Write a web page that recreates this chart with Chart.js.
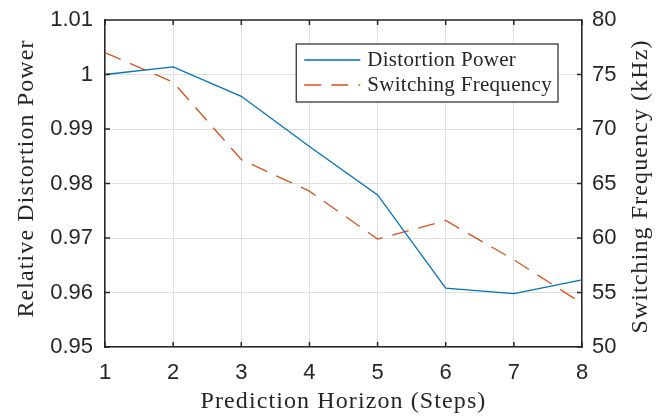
<!DOCTYPE html>
<html>
<head>
<meta charset="utf-8">
<script src="https://cdn.jsdelivr.net/npm/chart.js@4"></script>
<style>
  html, body { margin: 0; padding: 0; background: #fff; }
  #wrap { width: 665px; height: 416px; }
</style>
</head>
<body>
<div id="wrap"><canvas id="horizonChart" width="665" height="416"></canvas></div>
<script>
// Prediction horizon sweep
const horizonSteps = ['1', '2', '3', '4', '5', '6', '7', '8'];
const distortionPower = [1.0000, 1.0014, 0.9960, 0.9868, 0.9779, 0.9608, 0.9598, 0.9623];
const switchingFreqKHz = [77.0, 74.3, 67.2, 64.3, 59.9, 61.6, 58.0, 54.0];

const xTitle = 'Prediction Horizon (Steps)';
const yTitle = 'Relative Distortion Power';
const y2Title = 'Switching Frequency (kHz)';

const axisColor = '#262626';
const gridColor = '#dfdfdf';
const tickFont = { family: '"Liberation Sans", Arial, sans-serif', size: 22 };
const serifFont = '"Liberation Serif", "Times New Roman", serif';

function spacedText(ctx, text, x, y, angle) {
    ctx.save();
    ctx.translate(x, y);
    ctx.rotate(angle);
    ctx.font = '24px ' + serifFont;
    ctx.letterSpacing = '1.1px';
    ctx.fillStyle = axisColor;
    ctx.textAlign = 'center';
    ctx.textBaseline = 'middle';
    ctx.fillText(text, 0, 0);
    ctx.restore();
}

// fixed gutter around the plot box
function fixVertical(width) {
    return scale => {
        scale.width = width;
        scale.paddingTop = 0;
        scale.paddingBottom = 0;
    };
}

// Box outline, inward tick marks, axis titles and the boxed legend
const matlabFrame = {
    id: 'matlabFrame',
    afterDatasetsDraw(chart) {
        const ctx = chart.ctx;
        const area = chart.chartArea;
        const x = chart.scales.x;
        const yL = chart.scales.y;
        const yR = chart.scales.y2;
        const tick = 5;

        ctx.save();
        ctx.strokeStyle = axisColor;
        ctx.lineWidth = 1.5;
        ctx.beginPath();
        ctx.moveTo(area.left, area.top);
        ctx.lineTo(area.right, area.top);
        x.ticks.forEach((t, i) => {
            const px = x.getPixelForTick(i);
            ctx.moveTo(px, area.bottom);
            ctx.lineTo(px, area.bottom - tick);
            ctx.moveTo(px, area.top);
            ctx.lineTo(px, area.top + tick);
        });
        yL.ticks.forEach((t, i) => {
            const py = yL.getPixelForTick(i);
            ctx.moveTo(area.left, py);
            ctx.lineTo(area.left + tick, py);
        });
        yR.ticks.forEach((t, i) => {
            const py = yR.getPixelForTick(i);
            ctx.moveTo(area.right, py);
            ctx.lineTo(area.right - tick, py);
        });
        ctx.stroke();
        ctx.restore();

        const midX = (area.left + area.right) / 2;
        const midY = (area.top + area.bottom) / 2;
        spacedText(ctx, xTitle, midX, 402, 0);
        spacedText(ctx, yTitle, 27, midY - 5, -Math.PI / 2);
        spacedText(ctx, y2Title, 641, midY + 3, -Math.PI / 2);

        // legend
        ctx.save();
        ctx.font = '21px ' + serifFont;
        ctx.letterSpacing = '0.3px';
        const sets = chart.data.datasets;
        const textW = Math.max(...sets.map(d => ctx.measureText(d.label).width));
        const boxW = 71 + textW + 6;
        const boxH = 58;
        const bx = area.right - 24 - boxW;
        const by = area.top + 24;
        ctx.fillStyle = '#fff';
        ctx.fillRect(bx, by, boxW, boxH);
        ctx.strokeStyle = axisColor;
        ctx.lineWidth = 1.2;
        ctx.strokeRect(bx, by, boxW, boxH);
        sets.forEach((d, i) => {
            const ly = by + 16 + i * 25;
            ctx.strokeStyle = d.borderColor;
            ctx.lineWidth = d.borderWidth;
            ctx.setLineDash(d.borderDash || []);
            ctx.beginPath();
            ctx.moveTo(bx + 8, ly);
            ctx.lineTo(bx + 64, ly);
            ctx.stroke();
            ctx.setLineDash([]);
            ctx.fillStyle = axisColor;
            ctx.textBaseline = 'middle';
            ctx.textAlign = 'left';
            ctx.fillText(d.label, bx + 71, ly);
        });
        ctx.restore();
    }
};

const ctx = document.getElementById('horizonChart').getContext('2d');
new Chart(ctx, {
    type: 'line',
    data: {
        labels: horizonSteps,
        datasets: [
            {
                label: 'Distortion Power',
                data: distortionPower,
                yAxisID: 'y',
                borderColor: '#0072BD',
                borderWidth: 1.3,
                pointRadius: 0,
                tension: 0,
                fill: false
            },
            {
                label: 'Switching Frequency',
                data: switchingFreqKHz,
                yAxisID: 'y2',
                borderColor: '#D95319',
                borderWidth: 1.3,
                borderDash: [17, 10],
                pointRadius: 0,
                tension: 0,
                fill: false
            }
        ]
    },
    options: {
        responsive: false,
        animation: false,
        devicePixelRatio: 1,
        layout: { padding: { top: 20, left: 0, right: 0, bottom: 0 } },
        plugins: {
            legend: { display: false },
            tooltip: { enabled: false }
        },
        scales: {
            x: {
                offset: false,
                grid: { color: gridColor, drawTicks: false },
                border: { color: axisColor, width: 1.5 },
                ticks: { color: axisColor, font: tickFont, padding: 13, maxRotation: 0 },
                afterFit(scale) { scale.height = 69; }
            },
            y: {
                position: 'left',
                min: 0.95,
                max: 1.01,
                grid: { color: gridColor, drawTicks: false },
                border: { color: axisColor, width: 1.5 },
                ticks: {
                    stepSize: 0.01,
                    color: axisColor,
                    font: tickFont,
                    padding: 12,
                    callback: v => String(Number(v.toFixed(2)))
                },
                afterFit: fixVertical(105)
            },
            y2: {
                position: 'right',
                min: 50,
                max: 80,
                grid: { display: false, drawTicks: false },
                border: { color: axisColor, width: 1.5 },
                ticks: { stepSize: 5, color: axisColor, font: tickFont, padding: 10 },
                afterFit: fixVertical(83)
            }
        }
    },
    plugins: [matlabFrame]
});
</script>
</body>
</html>
